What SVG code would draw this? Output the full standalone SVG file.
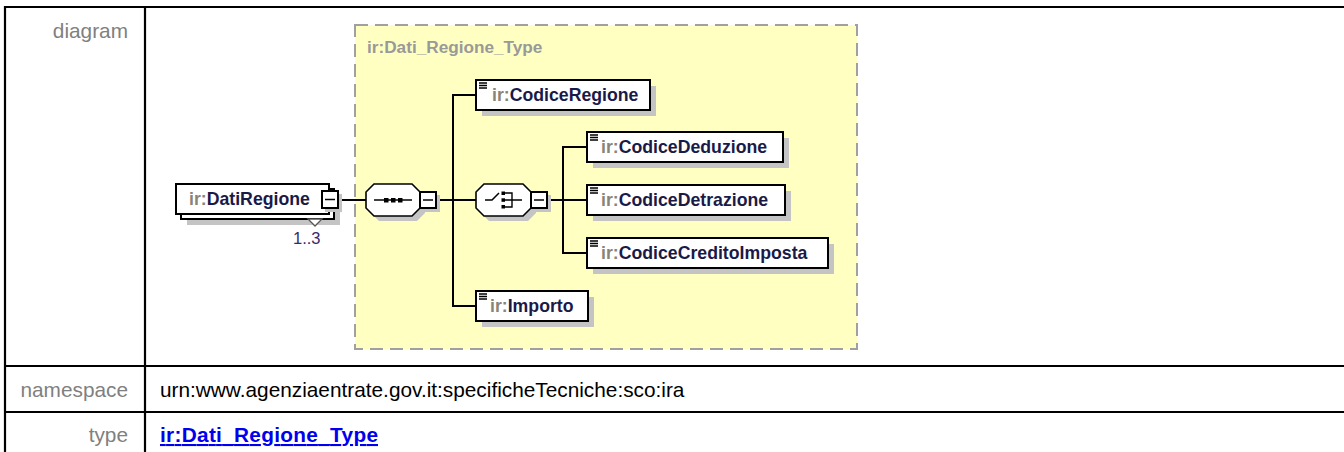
<svg xmlns="http://www.w3.org/2000/svg" width="1344" height="452" viewBox="0 0 1344 452">
<style>
.tbl{stroke:#000;stroke-width:2.2;fill:none}
.lbl{font-family:"Liberation Sans",Arial,sans-serif;font-size:20.8px;fill:#808080}
.val{font-family:"Liberation Sans",Arial,sans-serif;font-size:20.8px;fill:#000}
.lnk{font-family:"Liberation Sans",Arial,sans-serif;font-size:20.8px;font-weight:bold;fill:#0000ee;text-decoration:underline}
.box{fill:#fff;stroke:#000;stroke-width:2}
.shd{fill:#c4c4c4}
.name{font-family:"Liberation Sans",Arial,sans-serif;font-size:17.7px;font-weight:bold;fill:#1a1a48}
.pfx{fill:#8a8478}
.con{stroke:#000;stroke-width:2;fill:none}
.icon{stroke:#000;stroke-width:1.3}
.oct{fill:#fff;stroke:#000;stroke-width:1.6}
.minus{fill:#fff;stroke:#000;stroke-width:2}
</style>

<!-- table -->
<g id="table">
  <line class="tbl" x1="4" y1="7" x2="1344" y2="7"/>
  <line class="tbl" x1="5" y1="6" x2="5" y2="452"/>
  <line class="tbl" x1="145" y1="6" x2="145" y2="452"/>
  <line class="tbl" x1="4" y1="366" x2="1344" y2="366"/>
  <line class="tbl" x1="4" y1="412" x2="1344" y2="412"/>
  <text class="lbl" x="128" y="38" text-anchor="end">diagram</text>
  <text class="lbl" x="128" y="397" text-anchor="end">namespace</text>
  <text class="lbl" x="128" y="442" text-anchor="end">type</text>
  <text class="val" x="160" y="397">urn:www.agenziaentrate.gov.it:specificheTecniche:sco:ira</text>
  <text class="lnk" x="160" y="442" textLength="218" lengthAdjust="spacing">ir:Dati_Regione_Type</text>
</g>

<!-- complex type container -->
<g id="type-box">
  <rect x="355" y="25" width="502" height="324" fill="#ffffc2" stroke="#a0a0a0" stroke-width="2" stroke-dasharray="13,7"/>
  <text x="367" y="53" font-family="'Liberation Sans',Arial,sans-serif" font-size="17.2px" font-weight="bold" fill="#999999">ir:Dati_Regione_Type</text>
</g>

<!-- connectors -->
<g id="connectors">
  <line class="con" x1="339" y1="200" x2="366" y2="200"/>
  <line class="con" x1="437" y1="200" x2="453" y2="200"/>
  <line class="con" x1="453" y1="94" x2="453" y2="307"/>
  <line class="con" x1="452" y1="95" x2="476" y2="95"/>
  <line class="con" x1="453" y1="200" x2="476" y2="200"/>
  <line class="con" x1="452" y1="306" x2="476" y2="306"/>
  <line class="con" x1="548" y1="200" x2="563" y2="200"/>
  <line class="con" x1="563" y1="146" x2="563" y2="254"/>
  <line class="con" x1="562" y1="147" x2="587" y2="147"/>
  <line class="con" x1="563" y1="200" x2="587" y2="200"/>
  <line class="con" x1="562" y1="253" x2="587" y2="253"/>
</g>

<!-- root element -->
<g id="DatiRegione">
  <rect class="shd" x="187" y="195" width="153" height="30"/>
  <rect class="box" x="181" y="189" width="153" height="30"/>
  <rect class="box" x="176" y="184" width="153" height="30"/>
  <polygon points="308,219 322,219 315,226" fill="#fff" stroke="#555" stroke-width="1.3"/>
  <text class="name" x="189" y="205"><tspan class="pfx">ir:</tspan>DatiRegione</text>
  <rect class="shd" x="325" y="194" width="17" height="18"/>
  <rect class="minus" x="322" y="191" width="16" height="17"/>
  <line x1="325" y1="199.5" x2="335" y2="199.5" stroke="#000" stroke-width="1.5"/>
  <text x="293" y="244" font-family="'Liberation Sans',Arial,sans-serif" font-size="16.5px" fill="#3a2a6a">1..3</text>
</g>

<!-- sequence -->
<g id="sequence">
  <path class="shd" d="M379,189 H417 L425,197 V213 L417,221 H379 L371,213 V197 Z"/>
  <path class="oct" d="M374,184 H412 L420,192 V208 L412,216 H374 L366,208 V192 Z"/>
  <line x1="374" y1="200" x2="412" y2="200" stroke="#000" stroke-width="1.5"/>
  <rect x="384" y="198" width="4.5" height="4.5" fill="#000"/>
  <rect x="391" y="198" width="4.5" height="4.5" fill="#000"/>
  <rect x="398" y="198" width="4.5" height="4.5" fill="#000"/>
  <rect class="shd" x="423" y="195" width="17" height="17"/>
  <rect class="minus" x="420" y="192" width="16" height="16"/>
  <line x1="423" y1="200" x2="433" y2="200" stroke="#000" stroke-width="1.5"/>
</g>

<!-- choice -->
<g id="choice">
  <path class="shd" d="M489,189 H528 L536,197 V213 L528,221 H489 L481,213 V197 Z"/>
  <path class="oct" d="M484,184 H523 L531,192 V208 L523,216 H484 L476,208 V192 Z"/>
  <path d="M485,200 H492 L499,193" fill="none" stroke="#000" stroke-width="1.5"/>
  <rect x="501.5" y="191.5" width="3.5" height="3.5" fill="#000"/>
  <rect x="501.5" y="198.3" width="3.5" height="3.5" fill="#000"/>
  <rect x="501.5" y="205" width="3.5" height="3.5" fill="#000"/>
  <path d="M505,193 H512 V207 H505 M505,200 H512 M512,200 H522" fill="none" stroke="#000" stroke-width="1.4"/>
  <rect class="shd" x="534" y="195" width="17" height="17"/>
  <rect class="minus" x="531" y="192" width="16" height="16"/>
  <line x1="534" y1="200" x2="544" y2="200" stroke="#000" stroke-width="1.5"/>
</g>

<!-- elements -->
<g id="CodiceRegione">
  <rect class="shd" x="482" y="86" width="174" height="30"/>
  <rect class="box" x="476" y="80" width="174" height="30"/>
  <path class="icon" d="M479,83 H487 M479,85.5 H487 M479,88 H487"/>
  <text class="name" x="492" y="101"><tspan class="pfx">ir:</tspan>CodiceRegione</text>
</g>

<g id="CodiceDeduzione">
  <rect class="shd" x="593" y="138" width="196" height="30"/>
  <rect class="box" x="587" y="132" width="196" height="30"/>
  <path class="icon" d="M590,135 H598 M590,137.5 H598 M590,140 H598"/>
  <text class="name" x="601" y="153"><tspan class="pfx">ir:</tspan>CodiceDeduzione</text>
</g>

<g id="CodiceDetrazione">
  <rect class="shd" x="593" y="191" width="198" height="30"/>
  <rect class="box" x="587" y="185" width="198" height="30"/>
  <path class="icon" d="M590,188 H598 M590,190.5 H598 M590,193 H598"/>
  <text class="name" x="601" y="206"><tspan class="pfx">ir:</tspan>CodiceDetrazione</text>
</g>

<g id="CodiceCreditoImposta">
  <rect class="shd" x="593" y="244" width="241" height="30"/>
  <rect class="box" x="587" y="238" width="241" height="30"/>
  <path class="icon" d="M590,241 H598 M590,243.5 H598 M590,246 H598"/>
  <text class="name" x="601" y="259"><tspan class="pfx">ir:</tspan>CodiceCreditoImposta</text>
</g>

<g id="Importo">
  <rect class="shd" x="482" y="297" width="112" height="30"/>
  <rect class="box" x="476" y="291" width="112" height="30"/>
  <path class="icon" d="M479,294 H487 M479,296.5 H487 M479,299 H487"/>
  <text class="name" x="490" y="312"><tspan class="pfx">ir:</tspan>Importo</text>
</g>
</svg>
